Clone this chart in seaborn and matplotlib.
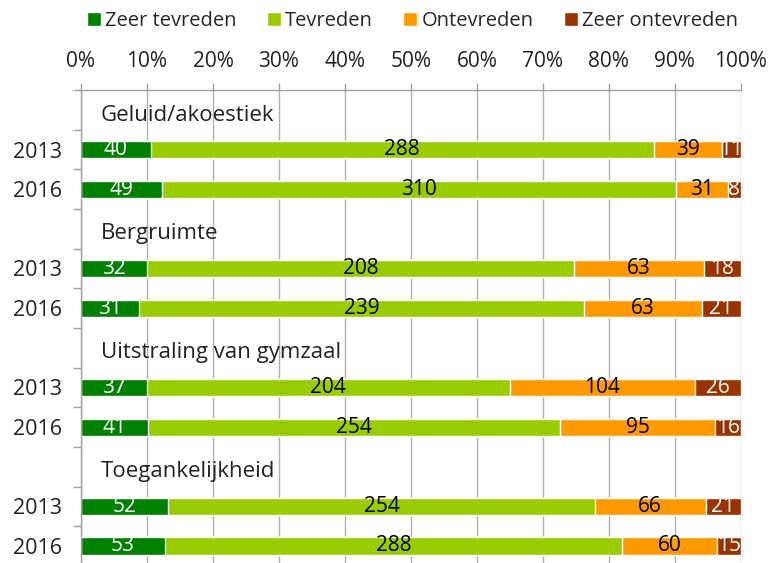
import numpy as np
import pandas as pd
import matplotlib.pyplot as plt
from matplotlib.patches import Patch
import seaborn as sns

# %% DATA
categories = ['Geluid/akoestiek', 'Bergruimte', 'Uitstraling van gymzaal', 'Toegankelijkheid']
years = ['2013', '2016']
series = ['Zeer tevreden', 'Tevreden', 'Ontevreden', 'Zeer ontevreden']

zeer_tevreden = [40, 49, 32, 31, 37, 41, 52, 53]
tevreden = [288, 310, 208, 239, 204, 254, 254, 288]
ontevreden = [39, 31, 63, 63, 104, 95, 66, 60]
zeer_ontevreden = [11, 8, 18, 21, 26, 16, 21, 15]

colors = ['#008000', '#99cc00', '#ff9900', '#993300']
text_colors = ['white', 'black', 'black', 'white']

# %% PREP
counts = np.array([zeer_tevreden, tevreden, ontevreden, zeer_ontevreden], dtype=float).T
pct = counts / counts.sum(axis=1, keepdims=True) * 100
cum = pct.cumsum(axis=1)

# row 0 = group label, rows 1,2 = bars, etc.
pos = []
for g in range(len(categories)):
    pos += [g * 3 + 1, g * 3 + 2]
pos = np.array(pos)

df = pd.DataFrame(cum, columns=series)
df['pos'] = pos

# %% PLOT
sns.set_style('white')
plt.rcParams['font.family'] = ['Open Sans', 'DejaVu Sans']

fig = plt.figure(figsize=(7.71, 5.63), dpi=100)
ax = fig.add_axes([0.105, -0.005, 0.856, 0.845])

# draw cumulative bars from the back to the front
for k in range(3, -1, -1):
    sns.barplot(data=df, x=series[k], y='pos', orient='y', native_scale=True,
                color=colors[k], width=0.43, errorbar=None, saturation=1, ax=ax)

for i, p in enumerate(pos):
    for k in range(4):
        left = cum[i, k] - pct[i, k]
        ax.text(left + pct[i, k] / 2, p, f'{int(counts[i, k])}', ha='center', va='center',
                fontsize=15, color=text_colors[k])

for g, name in enumerate(categories):
    ax.text(3, g * 3 + 0.13, name, ha='left', va='center', fontsize=16, color='#222222')

ax.set_xlim(0, 100)
ax.set_ylim(11.5, -0.5)
ax.set_xlabel('')
ax.set_ylabel('')

ax.xaxis.tick_top()
ax.set_xticks(np.arange(0, 101, 10))
ax.set_xticklabels([f'{v}%' for v in range(0, 101, 10)], fontsize=15, color='#222222')
ax.tick_params(axis='x', which='major', direction='out', length=5, width=1,
               color='#a0a0a0', pad=8, top=True, bottom=False)
ax.grid(axis='x', color='#b0b0b0', linewidth=1)
ax.set_axisbelow(True)

ax.set_yticks(pos)
ax.set_yticklabels([y for _ in categories for y in years], fontsize=15.5, color='#222222')
ax.set_yticks(np.arange(-0.5, 12, 1), minor=True)
ax.tick_params(axis='y', which='major', length=0, pad=14)
ax.tick_params(axis='y', which='minor', direction='out', length=6, width=1, color='#a0a0a0', left=True)

for s in ['right', 'bottom']:
    ax.spines[s].set_visible(False)
for s in ['left', 'top']:
    ax.spines[s].set_color('#a0a0a0')
    ax.spines[s].set_linewidth(1)

handles = [Patch(facecolor=c, label=s) for c, s in zip(colors, series)]
fig.legend(handles=handles, loc='center', bbox_to_anchor=(0.535, 0.963), ncol=4, frameon=False,
           fontsize=14.5, handlelength=0.7, handleheight=0.7, handletextpad=0.2, columnspacing=1.5)

fig.savefig('out.png', dpi=100)
